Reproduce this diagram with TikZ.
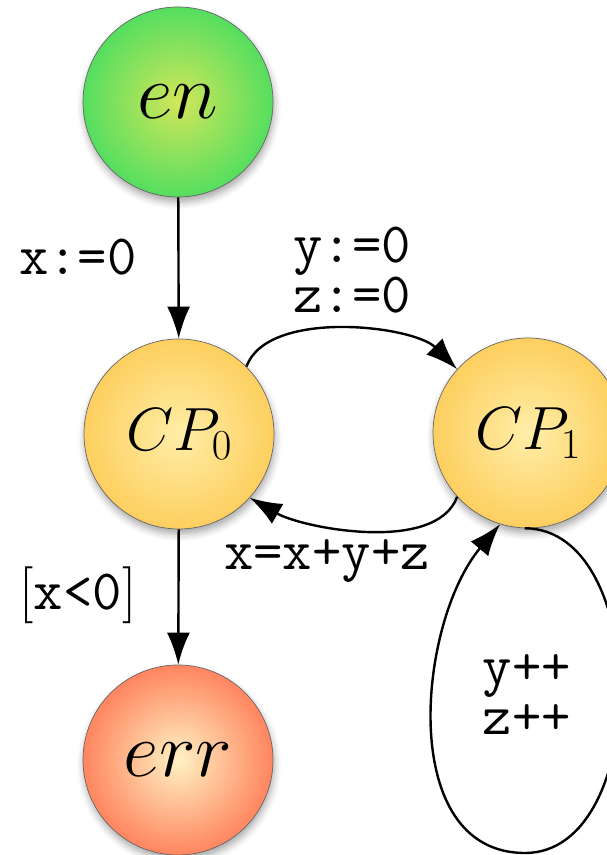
\RequirePackage{fix-cm}
\documentclass[tikz,border=0pt]{standalone}
\usetikzlibrary{arrows.meta,shadows.blur}

\definecolor{enin}{RGB}{210,230,90}
\definecolor{enout}{RGB}{85,222,95}
\definecolor{cpin}{RGB}{255,238,168}
\definecolor{cpout}{RGB}{253,207,95}
\definecolor{errin}{RGB}{255,242,195}
\definecolor{errout}{RGB}{255,133,95}

\begin{document}
\begin{tikzpicture}[
    >={Latex[length=32pt,width=23pt]},
    x=1pt,
    y=1pt,
    trans/.style={->, line width=2.4pt},
    state/.style={circle, draw=black!60, line width=0.7pt, minimum size=190pt, inner sep=0pt,
        blur shadow={shadow xshift=1pt, shadow yshift=-5pt, shadow blur radius=7pt, shadow opacity=35}},
    startstate/.style={state, inner color=enin, outer color=enout, font=\fontsize{78}{80}\selectfont},
    cpstate/.style={state, inner color=cpin, outer color=cpout, font=\fontsize{61}{62}\selectfont},
    errstate/.style={state, inner color=errin, outer color=errout, font=\fontsize{78}{80}\selectfont},
    act/.style={font=\fontsize{57}{50}\selectfont\ttfamily, align=left, inner sep=0pt}
]

% page
\clip (0,0) rectangle (607,855);

% ---------------- states ----------------
\node[startstate] (en)  at (178,753) {$en$};
\node[cpstate]    (cp0) at (179,421) {$CP_0$};
\node[cpstate]    (cp1) at (528,422) {$CP_1$};
\node[errstate]   (err) at (178,95)  {$err$};

% ---------------- transitions ----------------
\draw[trans] (en) -- (cp0);
\draw[trans] (cp0.45) to[out=70, in=135, looseness=0.75] (cp1.138);
\draw[trans] (cp1.222) to[out=-110, in=-30, looseness=0.75] (cp0.-42);
\draw[trans] (cp0) -- (err);

% self loop on CP1
\coordinate (loopbot) at (525,2);
\draw[trans] (cp1.268) to[out=0, in=0] (loopbot) to[out=180, in=230] (cp1.253);

% ---------------- labels ----------------
\node[act] (init)  at (78,598)  {x:=0};
\node[act] (reset) at (352,585) {y:=0\\z:=0};
\node[act] (upd)   at (327,294) {x=x+y+z};
\node[act] (guard) at (78,260)  {$[\texttt{x<0}]$};
\node[act] (incr)  at (527,160) {y++\\z++};

\end{tikzpicture}
\end{document}
